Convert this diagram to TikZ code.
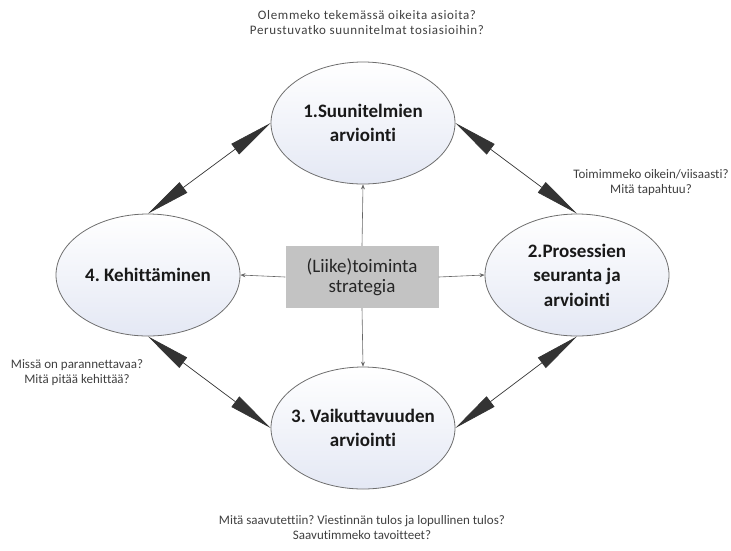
\documentclass[tikz,border=0pt]{standalone}
\usepackage{fontspec}
\setmainfont{Carlito}[Ligatures={NoCommon}]
\usetikzlibrary{arrows.meta,shapes.geometric}
\definecolor{ellfill}{HTML}{E4E8F4}
\definecolor{ellline}{HTML}{6E6E6E}
\definecolor{boxfill}{HTML}{C3C3C3}
\definecolor{lbltext}{HTML}{404040}
\frenchspacing
\begin{document}
\begin{tikzpicture}[x=1pt,y=-1pt,
  ell/.style={ellipse, draw=ellline, line width=0.8pt, minimum width=184pt, minimum height=122pt,
    top color=white, bottom color=ellfill, shading angle=0, align=center, inner xsep=-25pt, inner ysep=0pt,
    font=\fontsize{19}{24.5}\selectfont\bfseries, text=black!90},
  stratbox/.style={rectangle, fill=boxfill, minimum width=153pt, minimum height=62pt, inner sep=0pt,
    align=center, font=\fontsize{19}{20.5}\selectfont, text=black!85},
  lbl/.style={align=center, font=\fontsize{13}{15}\selectfont, text=lbltext, inner sep=0pt},
  dbl/.style={line width=0.7pt, draw=black!80, {Triangle[length=44pt,width=13pt]}-{Triangle[length=44pt,width=13pt]}},
  conn/.style={line width=0.6pt, draw=black!60, -{Stealth[length=5pt,width=4pt]}}]
\useasboundingbox (0,0) rectangle (731,550);
\node[ell] (e1) at (363,123) {1.Suunitelmien\\arviointi};
\node[ell] (e2) at (577,275) {2.Prosessien\\seuranta ja\\arviointi};
\node[ell] (e3) at (363,428) {3. Vaikuttavuuden\\arviointi};
\node[ell] (e4) at (148,275) {4. Kehittäminen};
\node[stratbox] (s) at (362,277) {(Liike)toiminta\\strategia};
\draw[conn] (s.north) -- (e1.south);
\draw[conn] (s.south) -- (e3.north);
\draw[conn] (s.west) -- (e4.east);
\draw[conn] (s.east) -- (e2.west);
\draw[dbl] (e4.north) -- (e1.west);
\draw[dbl] (e1.east) -- (e2.north);
\draw[dbl] (e4.south) -- (e3.west);
\draw[dbl] (e2.south) -- (e3.east);
\node[lbl, font=\fontsize{13}{15}\selectfont\addfontfeature{LetterSpace=5}] (q1) at (367,23) {Olemmeko tekemässä oikeita asioita?\\Perustuvatko suunnitelmat tosiasioihin?};
\node[lbl] (q2) at (651,183) {Toimimmeko oikein/viisaasti?\\Mitä tapahtuu?};
\node[lbl] (q4) at (77,373) {Missä on parannettavaa?\\Mitä pitää kehittää?};
\node[lbl] (q3) at (362,528) {Mitä saavutettiin? Viestinnän tulos ja lopullinen tulos?\\Saavutimmeko tavoitteet?};
\end{tikzpicture}
\end{document}
